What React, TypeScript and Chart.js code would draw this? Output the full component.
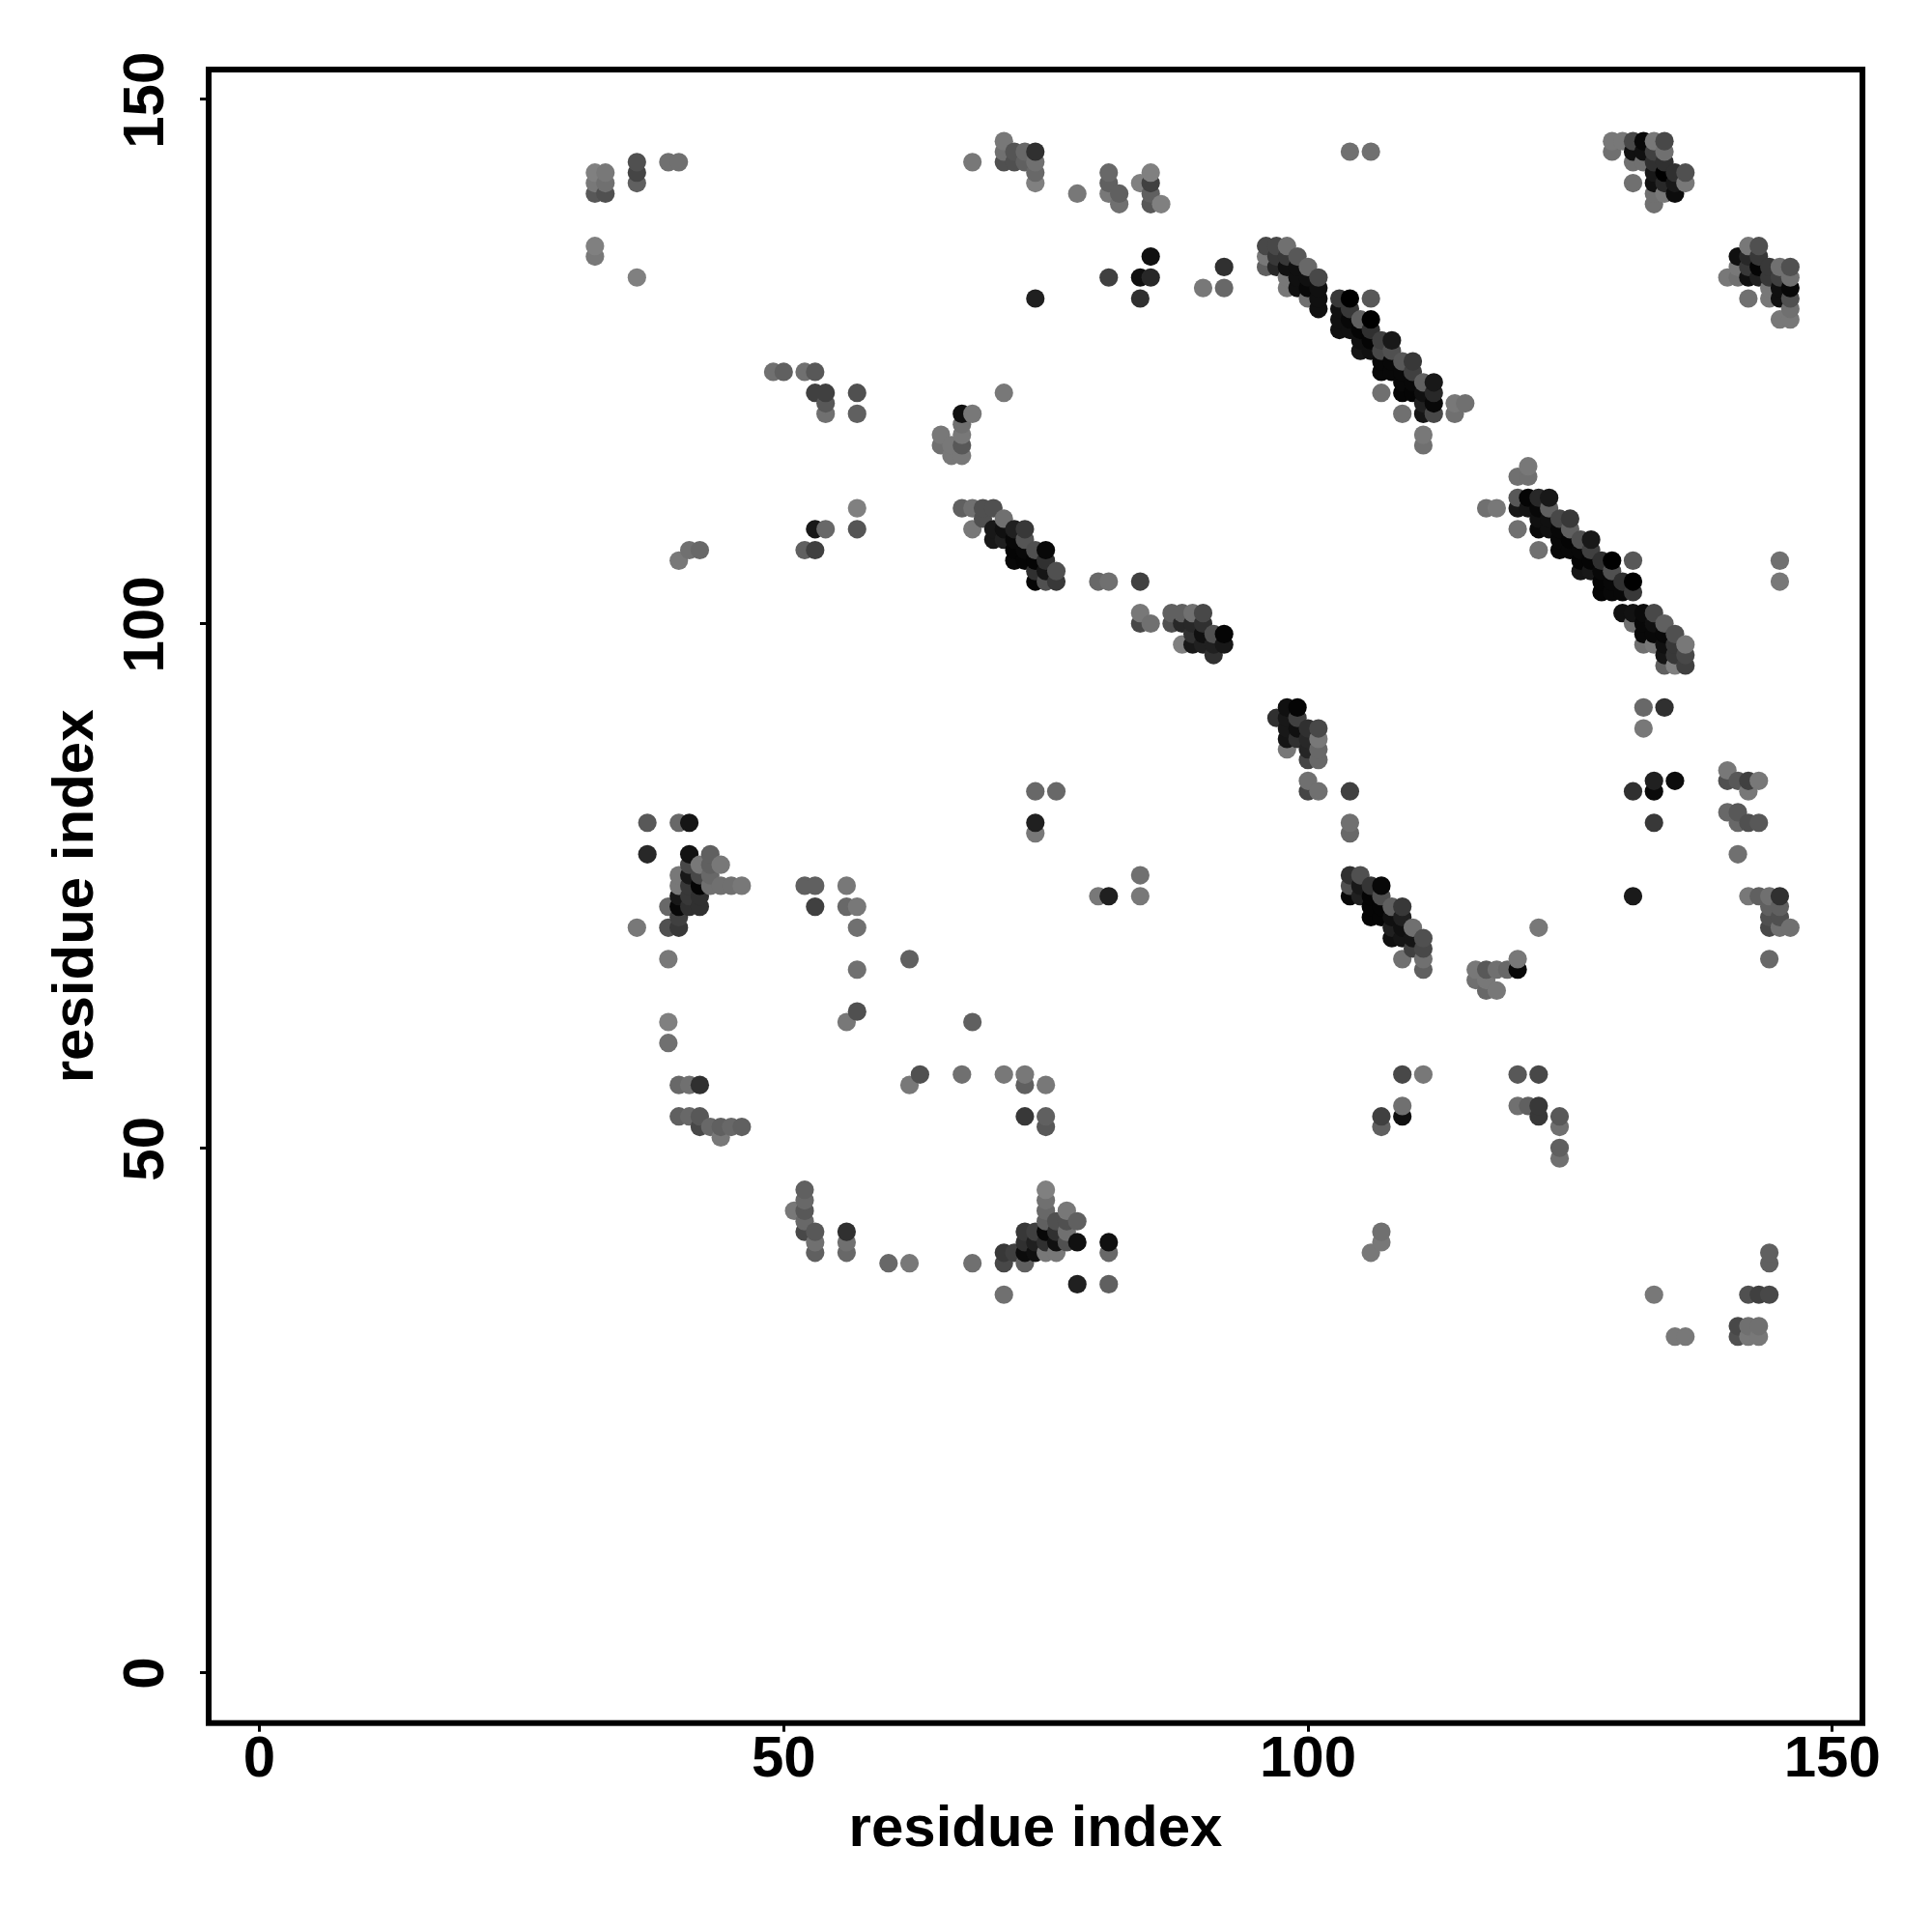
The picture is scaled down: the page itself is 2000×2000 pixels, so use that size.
import React, { useEffect, useRef } from "react";
import { Chart, registerables } from "chart.js";

Chart.register(...registerables);

type Contact = [number, number, number]; // residue x, residue y, grey level

const axisTicks = [0, 50, 100, 150];
const axisTitle = "residue index";

const topLeftContacts: Contact[] = [
  [32,143,0x80],[33,143,0x78],[32,142,0x78],[33,142,0x70],[32,141,0x58],[33,141,0x50],
  [36,144,0x50],[36,143,0x45],[36,142,0x60],[39,144,0x70],[40,144,0x70],
  [32,136,0x80],[32,135,0x78],[36,133,0x80],
  [68,144,0x78],[71,146,0x78],[71,145,0x70],[71,144,0x50],[72,145,0x55],[72,144,0x50],
  [73,145,0x68],[73,144,0x60],[74,145,0x30],[74,144,0x70],[74,143,0x68],[74,142,0x80],
  [78,141,0x78],[81,143,0x68],[81,142,0x60],[81,141,0x78],[82,141,0x60],[82,140,0x70],
  [84,142,0x80],[85,143,0x80],[85,142,0x40],[85,141,0x60],[85,140,0x58],[86,140,0x80],
  [85,135,0x10],[81,133,0x40],[84,133,0x10],[85,133,0x28],[74,131,0x20],[84,131,0x30],
  [90,132,0x78],[92,132,0x68],[92,134,0x30],
  [49,124,0x70],[50,124,0x60],[52,124,0x70],[53,124,0x58],[53,122,0x40],[54,122,0x40],[57,122,0x50],
  [54,121,0x58],[54,120,0x70],[57,120,0x60],
  [67,120,0x10],[68,120,0x78],[67,119,0x70],[67,118,0x78],[67,117,0x58],[67,116,0x78],[71,122,0x78],
  [65,118,0x78],[65,117,0x70],[66,117,0x78],[66,116,0x78],
  [57,111,0x80],[57,109,0x55],[53,109,0x18],[54,109,0x68],[52,107,0x60],[53,107,0x40],
  [40,106,0x78],[41,107,0x70],[42,107,0x68],
  [104,145,0x70],[106,145,0x70],
];

const strandOne: Contact[] = [
  [96,136,0x48],[96,135,0x78],[96,134,0x60],[97,136,0x48],[97,135,0x38],[97,134,0x28],
  [98,136,0x70],[98,135,0x38],[98,134,0x10],[98,133,0x78],[98,132,0x78],
  [99,135,0x58],[99,134,0x10],[99,133,0x10],[99,132,0x10],
  [100,134,0x68],[100,133,0x10],[100,132,0x08],[100,131,0x70],
  [101,133,0x48],[101,132,0x10],[101,131,0x10],[101,130,0x10],
  [103,131,0x38],[103,130,0x10],[103,129,0x10],[103,128,0x10],
  [104,131,0x00],[104,130,0x38],[104,129,0x08],[104,128,0x10],
  [105,129,0x60],[105,128,0x05],[105,127,0x10],[105,126,0x15],
  [106,131,0x58],[106,129,0x00],[106,128,0x30],[106,127,0x05],[106,126,0x10],
  [107,127,0x40],[107,126,0x48],[107,125,0x08],[107,124,0x08],[107,122,0x70],
  [108,127,0x18],[108,126,0x50],[108,125,0x08],[108,124,0x08],
  [109,125,0x58],[109,124,0x08],[109,123,0x08],[109,122,0x05],[109,120,0x70],
  [110,125,0x38],[110,124,0x40],[110,123,0x08],[110,122,0x05],
  [111,123,0x60],[111,122,0x10],[111,121,0x20],[111,120,0x15],[111,118,0x78],[111,117,0x70],
  [112,123,0x18],[112,122,0x28],[112,121,0x08],[112,120,0x48],
  [114,121,0x78],[114,120,0x70],[115,121,0x70],
];

const topRightContacts: Contact[] = [
  [129,146,0x78],[129,145,0x70],[130,146,0x78],
  [131,146,0x48],[131,145,0x10],[131,144,0x70],[131,142,0x70],
  [132,146,0x08],[132,145,0x10],[132,144,0x70],
  [133,146,0x78],[133,145,0x40],[133,144,0x30],[133,143,0x18],[133,142,0x10],[133,141,0x70],[133,140,0x70],
  [134,146,0x48],[134,145,0x70],[134,144,0x30],[134,143,0x00],[134,142,0x28],[134,141,0x78],
  [135,143,0x30],[135,142,0x18],[135,141,0x0c],[136,143,0x50],[136,142,0x78],
  [140,133,0x78],[141,135,0x10],[141,134,0x78],[141,133,0x70],
  [142,136,0x78],[142,135,0x28],[142,134,0x38],[142,133,0x10],[142,131,0x70],
  [143,136,0x50],[143,135,0x38],[143,134,0x05],[143,133,0x20],
  [144,134,0x38],[144,133,0x38],[144,132,0x78],[144,131,0x78],
  [145,134,0x70],[145,133,0x40],[145,132,0x10],[145,131,0x10],[145,129,0x78],
  [146,134,0x50],[146,133,0x70],[146,132,0x08],[146,131,0x50],[146,130,0x70],[146,129,0x78],
];

const strandTwo: Contact[] = [
  [67,111,0x60],[68,111,0x70],[69,111,0x50],[70,111,0x50],[69,110,0x50],[71,110,0x70],[68,109,0x78],
  [70,109,0x18],[70,108,0x18],[71,109,0x10],[71,108,0x20],
  [72,109,0x20],[72,108,0x08],[72,107,0x05],[72,106,0x08],
  [73,109,0x38],[73,108,0x55],[73,107,0x08],[73,106,0x05],
  [74,107,0x50],[74,106,0x05],[74,105,0x30],[74,104,0x05],
  [75,107,0x08],[75,106,0x30],[75,105,0x15],[75,104,0x50],
  [76,105,0x50],[76,104,0x38],
  [80,104,0x68],[81,104,0x70],[84,104,0x40],[84,101,0x78],[84,100,0x48],[85,100,0x70],
  [87,101,0x60],[87,100,0x50],[88,101,0x60],[88,100,0x28],[88,98,0x80],
  [89,101,0x70],[89,100,0x28],[89,99,0x30],[89,98,0x18],
  [90,101,0x48],[90,100,0x30],[90,99,0x10],[90,98,0x20],
  [91,99,0x50],[91,98,0x20],[91,97,0x30],[92,99,0x05],[92,98,0x18],
];

const strandThree: Contact[] = [
  [121,115,0x78],[121,114,0x70],[120,114,0x70],[117,111,0x70],[118,111,0x78],
  [120,112,0x58],[120,111,0x18],[120,109,0x70],[121,112,0x05],[121,111,0x15],
  [122,112,0x28],[122,111,0x08],[122,110,0x10],[122,109,0x0a],[122,107,0x70],
  [123,112,0x18],[123,111,0x60],[123,110,0x10],[123,109,0x10],
  [124,110,0x48],[124,109,0x08],[124,108,0x08],[124,107,0x08],
  [125,110,0x38],[125,109,0x60],[125,108,0x05],[125,107,0x08],
  [126,108,0x50],[126,107,0x08],[126,106,0x05],[126,105,0x15],
  [127,108,0x18],[127,107,0x40],[127,106,0x05],[127,105,0x18],
  [128,106,0x30],[128,105,0x08],[128,104,0x05],[128,103,0x05],
  [129,106,0x00],[129,105,0x50],[129,104,0x08],[129,103,0x08],
  [130,104,0x30],[130,103,0x08],[131,106,0x58],[131,104,0x00],[131,103,0x38],
  [130,101,0x10],[131,101,0x12],[131,100,0x70],
  [132,101,0x0a],[132,100,0x08],[132,99,0x08],[132,98,0x70],
  [133,101,0x48],[133,100,0x10],[133,99,0x08],[133,98,0x78],
  [134,100,0x60],[134,99,0x08],[134,98,0x10],[134,97,0x15],[134,96,0x60],
  [135,99,0x50],[135,98,0x38],[135,97,0x38],[135,96,0x80],
  [136,98,0x78],[136,97,0x48],[136,96,0x40],
  [132,92,0x68],[132,90,0x78],[134,92,0x30],[145,106,0x70],[145,104,0x78],
];

const centreContacts: Contact[] = [
  [97,91,0x30],[98,92,0x10],[98,91,0x18],[98,90,0x18],[98,89,0x15],[98,88,0x78],
  [99,92,0x05],[99,91,0x40],[99,90,0x10],[99,89,0x30],
  [100,90,0x30],[100,89,0x28],[100,88,0x25],[100,87,0x45],
  [101,90,0x48],[101,89,0x78],[101,88,0x68],[101,87,0x68],
  [100,85,0x70],[100,84,0x45],[101,84,0x70],[104,84,0x40],[104,81,0x70],[104,80,0x68],
  [104,76,0x30],[104,75,0x50],[104,74,0x08],[105,76,0x50],[105,75,0x18],[105,74,0x20],
  [106,75,0x35],[106,74,0x05],[106,73,0x05],[106,72,0x05],
  [107,75,0x08],[107,74,0x50],[107,73,0x05],[107,72,0x05],
  [108,73,0x60],[108,72,0x10],[108,71,0x20],[108,70,0x10],
  [109,73,0x38],[109,72,0x20],[109,71,0x10],[109,70,0x15],[109,68,0x70],
  [110,71,0x70],[110,70,0x15],[110,69,0x40],
  [111,70,0x50],[111,69,0x48],[111,68,0x70],[111,67,0x60],
  [84,76,0x70],[84,74,0x78],[80,74,0x78],[81,74,0x20],
  [74,84,0x68],[76,84,0x68],[74,81,0x20],[74,80,0x78],
];

const rightContacts: Contact[] = [
  [116,67,0x78],[116,66,0x70],[117,67,0x58],[117,66,0x78],[117,65,0x68],
  [118,67,0x70],[118,65,0x78],[119,67,0x68],[120,68,0x78],[120,67,0x08],[122,71,0x78],
  [131,84,0x30],[131,74,0x1a],[133,85,0x20],[133,84,0x0a],[133,81,0x38],[135,85,0x0c],
  [140,86,0x78],[140,85,0x50],[140,82,0x68],[141,85,0x58],[141,82,0x58],[141,81,0x68],[141,78,0x70],
  [142,85,0x40],[142,84,0x78],[142,81,0x50],[143,85,0x78],[143,81,0x58],
  [142,74,0x78],[143,74,0x60],
  [144,74,0x70],[144,73,0x60],[144,72,0x50],[144,71,0x48],[144,68,0x68],
  [145,74,0x30],[145,73,0x60],[145,72,0x50],[145,71,0x70],[146,71,0x70],
];

const leftContacts: Contact[] = [
  [37,81,0x58],[37,78,0x28],[40,81,0x68],[41,81,0x15],[36,71,0x78],
  [39,73,0x68],[39,71,0x50],[39,68,0x78],[39,62,0x80],[39,60,0x70],
  [40,76,0x78],[40,75,0x78],[40,74,0x18],[40,73,0x08],[40,72,0x40],[40,71,0x38],[40,56,0x68],[40,53,0x60],
  [41,78,0x12],[41,77,0x48],[41,76,0x18],[41,75,0x38],[41,74,0x38],[41,73,0x30],[41,56,0x70],[41,53,0x68],
  [42,77,0x78],[42,76,0x48],[42,75,0x05],[42,74,0x30],[42,73,0x30],[42,56,0x30],[42,53,0x58],[42,52,0x48],
  [43,78,0x60],[43,77,0x60],[43,76,0x68],[43,75,0x70],[43,52,0x68],
  [44,77,0x78],[44,75,0x70],[44,52,0x60],[44,51,0x78],[45,75,0x70],[45,52,0x68],[46,75,0x78],[46,52,0x60],
  [52,75,0x60],[53,75,0x60],[53,73,0x40],[56,75,0x78],[56,73,0x68],[56,62,0x78],
  [57,73,0x78],[57,71,0x70],[57,67,0x70],[57,63,0x50],
  [62,68,0x60],[62,56,0x78],[63,57,0x50],[67,57,0x70],[68,62,0x60],[71,57,0x78],
  [73,57,0x78],[73,56,0x60],[73,53,0x38],[75,56,0x78],[75,53,0x60],[75,52,0x58],
];

const lowerContacts: Contact[] = [
  [109,57,0x48],[109,54,0x70],[109,53,0x10],[111,57,0x78],[107,53,0x40],[107,52,0x60],
  [120,57,0x58],[120,54,0x70],[121,54,0x60],[122,57,0x48],[122,54,0x38],[122,53,0x38],
  [124,53,0x58],[124,52,0x70],[124,50,0x60],[124,49,0x70],
  [107,42,0x70],[107,41,0x78],[106,40,0x78],
  [133,36,0x78],[135,32,0x78],[136,32,0x78],
  [141,33,0x48],[141,32,0x50],[142,36,0x50],[142,33,0x70],[142,32,0x78],
  [143,36,0x40],[143,33,0x70],[143,32,0x78],[144,40,0x60],[144,39,0x60],[144,36,0x48],
  [51,44,0x78],[52,46,0x60],[52,45,0x68],[52,44,0x58],[52,43,0x68],[52,42,0x48],
  [53,42,0x58],[53,41,0x70],[53,40,0x60],[56,42,0x30],[56,41,0x70],[56,40,0x68],
  [60,39,0x68],[62,39,0x78],[68,39,0x70],
  [71,40,0x38],[71,39,0x48],[71,36,0x70],[72,40,0x40],
  [73,42,0x38],[73,41,0x30],[73,40,0x0c],[73,39,0x60],[74,42,0x40],[74,41,0x20],[74,40,0x10],
  [75,46,0x80],[75,45,0x70],[75,44,0x68],[75,43,0x60],[75,42,0x08],[75,41,0x30],[75,40,0x78],
  [76,43,0x50],[76,42,0x30],[76,41,0x10],[76,40,0x78],
  [77,44,0x78],[77,43,0x50],[77,42,0x70],[77,41,0x50],
  [78,43,0x60],[78,41,0x10],[78,37,0x20],[81,41,0x10],[81,40,0x68],[81,37,0x60],
];

const contacts: Contact[] = [
  ...topLeftContacts, ...strandOne, ...topRightContacts, ...strandTwo, ...strandThree,
  ...centreContacts, ...rightContacts, ...leftContacts, ...lowerContacts,
].sort((a, b) => a[0] - b[0] || a[1] - b[1]);

const FONT = '"Liberation Sans", Arial, sans-serif';

const framePlugin = {
  id: "frame",
  afterDraw(chart: any) {
    const { ctx, chartArea: a, scales } = chart;
    ctx.save();
    ctx.strokeStyle = "#000";
    ctx.lineWidth = 6;
    ctx.strokeRect(a.left, a.top, a.right - a.left, a.bottom - a.top);
    ctx.fillStyle = "#000";
    ctx.font = `bold 60px ${FONT}`;
    ctx.textAlign = "center";
    ctx.textBaseline = "middle";
    for (const t of scales.y.ticks) {
      ctx.save();
      ctx.translate(150, scales.y.getPixelForValue(t.value));
      ctx.rotate(-Math.PI / 2);
      ctx.fillText(String(t.value), -1, 2);
      ctx.restore();
    }
    ctx.restore();
  },
};

export default function App() {
  const ref = useRef<HTMLCanvasElement>(null);
  useEffect(() => {
    const chart = new Chart(ref.current as HTMLCanvasElement, {
      type: "scatter",
      plugins: [framePlugin],
      data: {
        datasets: [
          {
            data: contacts.map(([x, y]) => ({ x, y })),
            pointRadius: 9.6,
            pointHoverRadius: 9.6,
            pointBorderWidth: 0,
            pointBackgroundColor: contacts.map(([, , g]) => `rgb(${g},${g},${g})`),
          },
        ],
      },
      options: {
        animation: false,
        responsive: false,
        devicePixelRatio: 1,
        layout: { padding: { top: 72, right: 72, left: 0, bottom: 0 } },
        plugins: { legend: { display: false }, tooltip: { enabled: false } },
        scales: {
          x: {
            type: "linear",
            min: -4.84,
            max: 152.88,
            afterFit: (s: any) => { s.height = 216.3; },
            afterBuildTicks: (s: any) => { s.ticks = axisTicks.map((value) => ({ value })); },
            border: { display: false },
            grid: { drawOnChartArea: false, drawTicks: true, tickLength: 9, tickWidth: 3, tickColor: "#000" },
            ticks: {
              color: "#000",
              maxRotation: 0,
              autoSkip: false,
              padding: -6,
              font: { family: FONT, weight: "bold", size: 60 },
            },
            title: {
              display: true,
              text: axisTitle,
              color: "#000",
              padding: { top: 0, bottom: 76 },
              font: { family: FONT, weight: "bold", size: 60, lineHeight: 1 },
            },
          },
          y: {
            type: "linear",
            min: -4.85,
            max: 152.83,
            afterFit: (s: any) => { s.width = 216; },
            afterBuildTicks: (s: any) => { s.ticks = axisTicks.map((value) => ({ value })); },
            border: { display: false },
            grid: { drawOnChartArea: false, drawTicks: true, tickLength: 9, tickWidth: 3, tickColor: "#000" },
            ticks: { display: false },
            title: {
              display: true,
              text: axisTitle,
              color: "#000",
              padding: { top: 49, bottom: 0 },
              font: { family: FONT, weight: "bold", size: 60, lineHeight: 1 },
            },
          },
        },
      },
    } as any);
    return () => chart.destroy();
  }, []);
  return (
    <div style={{ position: "absolute", left: 0, top: 0, width: 2000, height: 2000, background: "#fff" }}>
      <canvas ref={ref} width={2000} height={2000} style={{ display: "block" }} />
    </div>
  );
}
